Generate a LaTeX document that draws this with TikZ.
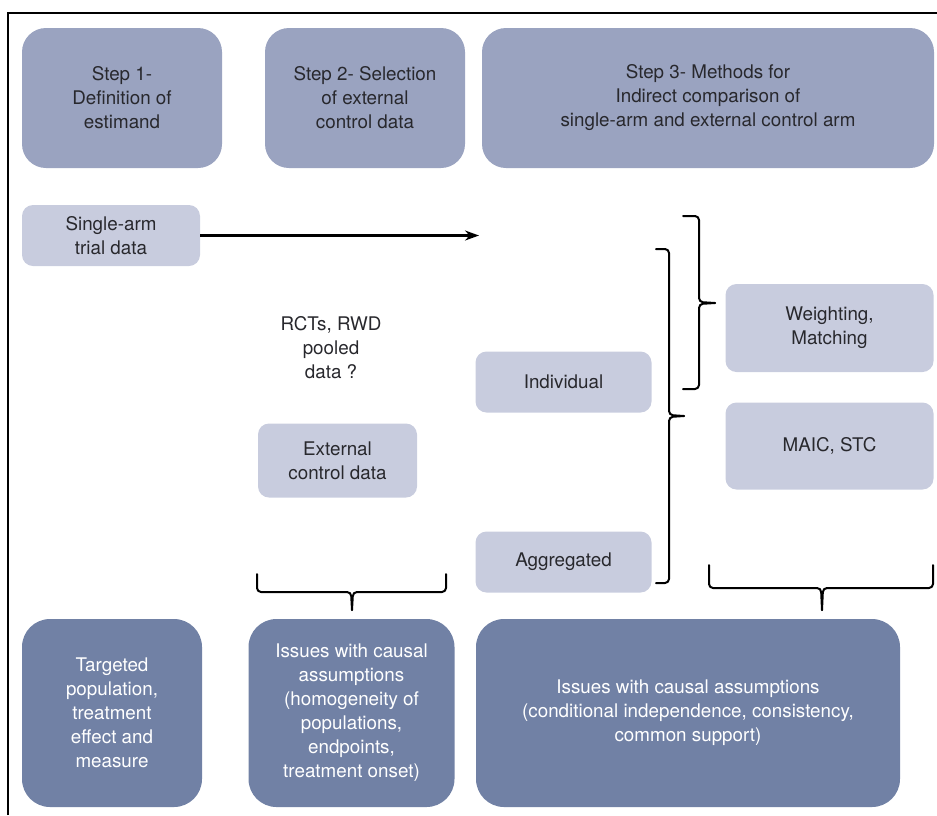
\documentclass[tikz,border=0pt]{standalone}
\usepackage{fontspec}
\setmainfont{TeX Gyre Heros}
\usetikzlibrary{arrows.meta}
\definecolor{topc}{RGB}{154,163,192}
\definecolor{lightc}{RGB}{200,204,222}
\definecolor{darkc}{RGB}{113,129,165}
\definecolor{txt}{RGB}{40,40,45}
\tikzset{
  box/.style={draw=none, align=center, inner sep=0pt, font=\fontsize{18.8}{24}\selectfont},
  topbox/.style={box, fill=topc, text=txt, rounded corners=24pt},
  lightbox/.style={box, fill=lightc, text=txt, rounded corners=11pt},
  darkbox/.style={box, fill=darkc, text=white, rounded corners=28pt},
  brace/.style={line width=2pt, line cap=round, line join=round, rounded corners=4pt},
}
\begin{document}
\begin{tikzpicture}[x=1pt,y=-1pt]
\useasboundingbox (0,0) rectangle (937,815);
% frame
\draw[line width=1.4pt] (8,815) -- (8,13) -- (937,13);
% top boxes
\node[topbox, minimum width=200pt, minimum height=140pt] (s1) at (122,98) {Step 1-\\Definition of\\estimand};
\node[topbox, minimum width=200pt, minimum height=140pt] (s2) at (365,98) {Step 2- Selection\\of external\\control data};
\node[topbox, minimum width=452pt, minimum height=140pt] (s3) at (708,98) {Step 3- Methods for\\Indirect comparison of\\single-arm and external control arm};
% middle
\node[lightbox, minimum width=178pt, minimum height=61pt] (sa) at (111,235.5) {Single-arm\\trial data};
\coordinate (arrend) at (479,235.5);
\draw[line width=2.2pt, -{Stealth[length=14pt,width=10pt]}] (sa.east) -- (arrend);
\node[box, text=txt] (rct) at (331,348) {RCTs, RWD\\pooled\\data ?};
\node[lightbox, minimum width=159pt, minimum height=74pt] (ext) at (337.5,460.5) {External\\control data};
\node[lightbox, minimum width=176pt, minimum height=61pt] (ind) at (563.5,382) {Individual};
\node[lightbox, minimum width=176pt, minimum height=61pt] (agg) at (563.5,562) {Aggregated};
\node[lightbox, minimum width=208pt, minimum height=88pt] (wm) at (829.5,328) {Weighting,\\Matching};
\node[lightbox, minimum width=208pt, minimum height=87pt] (maic) at (829.5,446) {MAIC, STC};
% braces
\draw[brace] (683,216) -- (699,216) -- (699,302) -- (715,303) ;
\draw[brace] (715,303) -- (699,304) -- (699,389) -- (683,389);
\draw[brace] (656,249) -- (669,249) -- (669,415) -- (684,416);
\draw[brace] (684,416) -- (669,417) -- (669,583) -- (656,583);
\draw[brace] (257,574) -- (257,592) -- (351,592) -- (352,610);
\draw[brace] (352,610) -- (353,592) -- (446,592) -- (446,574);
\draw[brace] (709,565) -- (709,588) -- (821,588) -- (822,610);
\draw[brace] (822,610) -- (823,588) -- (933,588) -- (933,565);
% bottom boxes
\node[darkbox, minimum width=180pt, minimum height=188pt] (b1) at (112,713) {Targeted\\population,\\treatment\\effect and\\measure};
\node[darkbox, minimum width=206pt, minimum height=188pt] (b2) at (351.5,713) {Issues with causal\\assumptions\\(homogeneity of\\populations,\\endpoints,\\treatment onset)};
\node[darkbox, minimum width=424pt, minimum height=188pt] (b3) at (688,713) {Issues with causal assumptions\\(conditional independence, consistency,\\common support)};
\end{tikzpicture}
\end{document}
